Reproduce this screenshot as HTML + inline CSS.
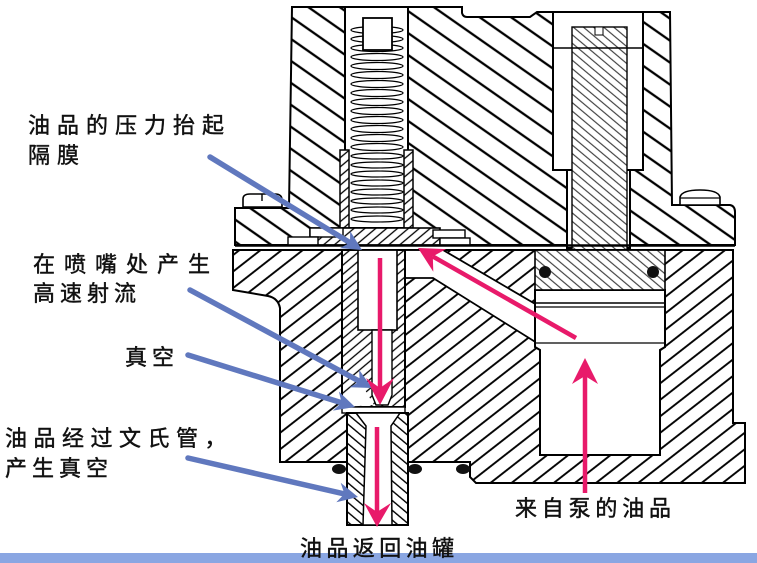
<!DOCTYPE html>
<html><head><meta charset="utf-8"><style>
html,body{margin:0;padding:0;background:#fff;}
svg{display:block;}
text{font-family:"Liberation Sans","Noto Sans CJK SC",sans-serif;font-size:22px;fill:#111;stroke:#111;stroke-width:0.45px;}
</style></head><body>
<svg width="757" height="563" viewBox="0 0 757 563" xmlns="http://www.w3.org/2000/svg">
<defs>
<pattern id="hA" width="18" height="18" patternUnits="userSpaceOnUse" patternTransform="rotate(-55)">
<rect width="18" height="18" fill="#fff"/><line x1="9" y1="0" x2="9" y2="18" stroke="#000" stroke-width="2.3"/></pattern>
<pattern id="hB" width="13" height="13" patternUnits="userSpaceOnUse" patternTransform="rotate(52)">
<rect width="13" height="13" fill="#fff"/><line x1="6.5" y1="0" x2="6.5" y2="13" stroke="#000" stroke-width="1.9"/></pattern>
<pattern id="hC" width="7" height="7" patternUnits="userSpaceOnUse" patternTransform="rotate(50)">
<rect width="7" height="7" fill="#fff"/><line x1="3.5" y1="0" x2="3.5" y2="7" stroke="#000" stroke-width="1.3"/></pattern>
<pattern id="hD" width="7.5" height="7.5" patternUnits="userSpaceOnUse" patternTransform="rotate(-50)">
<rect width="7.5" height="7.5" fill="#fff"/><line x1="3.7" y1="0" x2="3.7" y2="7.5" stroke="#000" stroke-width="1.4"/></pattern>
<pattern id="hE" width="6.5" height="6.5" patternUnits="userSpaceOnUse" patternTransform="rotate(-50)">
<rect width="6.5" height="6.5" fill="#fff"/><line x1="3.2" y1="0" x2="3.2" y2="6.5" stroke="#222" stroke-width="1"/></pattern>
</defs>

<!-- upper body -->
<path d="M292,7 L462,7 L462,13 Q463,17 467,17 L530,17 L537,12 L670,12 L672,205 L730,205 Q735,206 735,212 L735,245 L235,245 L235,208 L289,208 Z" fill="url(#hA)" stroke="#000" stroke-width="2"/>

<!-- spring bore -->
<rect x="345" y="7" width="63" height="221" fill="#fff" stroke="#000" stroke-width="2"/>
<rect x="340" y="150" width="9" height="78" fill="url(#hC)" stroke="#000" stroke-width="1.5"/>
<rect x="404" y="150" width="9" height="78" fill="url(#hC)" stroke="#000" stroke-width="1.5"/>
<g fill="none" stroke="#000" stroke-width="1.2">
<ellipse cx="377" cy="30" rx="26" ry="3.5"/><ellipse cx="377" cy="39" rx="26" ry="3.5"/>
<ellipse cx="377" cy="48" rx="26" ry="3.5"/><ellipse cx="377" cy="57" rx="26" ry="3.5"/>
<ellipse cx="377" cy="66" rx="26" ry="3.5"/><ellipse cx="377" cy="75" rx="26" ry="3.5"/>
<ellipse cx="377" cy="84" rx="26" ry="3.5"/><ellipse cx="377" cy="93" rx="26" ry="3.5"/>
<ellipse cx="377" cy="102" rx="26" ry="3.5"/><ellipse cx="377" cy="111" rx="26" ry="3.5"/>
<ellipse cx="377" cy="120" rx="26" ry="3.5"/><ellipse cx="377" cy="129" rx="26" ry="3.5"/>
<ellipse cx="377" cy="138" rx="26" ry="3.5"/><ellipse cx="377" cy="147" rx="26" ry="3.5"/>
<ellipse cx="377" cy="156" rx="26" ry="3"/><ellipse cx="377" cy="165" rx="26" ry="3"/>
<ellipse cx="377" cy="174" rx="26" ry="3"/><ellipse cx="377" cy="183" rx="26" ry="3"/>
<ellipse cx="377" cy="192" rx="26" ry="3"/><ellipse cx="377" cy="201" rx="26" ry="3"/>
<ellipse cx="377" cy="210" rx="26" ry="3"/><ellipse cx="377" cy="219" rx="26" ry="3"/>
</g>
<rect x="363" y="18" width="29" height="32" fill="#fff" stroke="#000" stroke-width="1.8"/>

<!-- spring base plate -->
<rect x="310" y="228" width="130" height="17" fill="url(#hC)" stroke="#000" stroke-width="1.6"/>
<rect x="310" y="228" width="33" height="9" fill="#fff" stroke="#000" stroke-width="1.4"/>
<rect x="288" y="237" width="30" height="8" fill="#fff" stroke="#000" stroke-width="1.4"/>
<rect x="433" y="230" width="32" height="8" fill="#fff" stroke="#000" stroke-width="1.4"/>
<rect x="440" y="238" width="30" height="7" fill="#fff" stroke="#000" stroke-width="1.4"/>

<!-- stem bore & stem -->
<rect x="553" y="12" width="90" height="158" fill="#fff" stroke="#000" stroke-width="2"/>
<rect x="567" y="170" width="63" height="78" fill="#fff" stroke="#000" stroke-width="2"/>
<rect x="572" y="27" width="55" height="223" fill="url(#hE)" stroke="#000" stroke-width="1.4"/>
<rect x="595" y="27" width="8" height="8" fill="#fff" stroke="#000" stroke-width="1"/>
<line x1="553" y1="48" x2="643" y2="48" stroke="#000" stroke-width="1.5"/>

<!-- lower body -->
<path d="M233,250 L733,250 L733,423 L745,423 L745,483 L476,483 L470,477 L470,462 L280,462 L280,308 Q278,298 268,296 L233,290 Z" fill="url(#hB)" stroke="#000" stroke-width="2"/>
<!-- channel -->
<path d="M405,250 L443,250 L537,305 L537,343 L433,278 L405,278 Z" fill="#fff" stroke="#000" stroke-width="1.8"/>
<!-- piston bore -->
<path d="M535,290 L665,290 L665,347 L660,350 L660,455 L540,455 L540,350 L535,347 Z" fill="#fff" stroke="#000" stroke-width="2"/>
<line x1="535" y1="303" x2="665" y2="303" stroke="#000" stroke-width="1.5"/>
<line x1="535" y1="307" x2="665" y2="307" stroke="#000" stroke-width="1.2"/>
<line x1="535" y1="343" x2="665" y2="343" stroke="#000" stroke-width="1.2"/>
<rect x="535" y="250" width="130" height="40" fill="url(#hE)" stroke="#000" stroke-width="1.6"/>
<ellipse cx="545" cy="272" rx="6" ry="6" fill="#111"/>
<ellipse cx="653" cy="272" rx="6" ry="6" fill="#111"/>

<!-- nozzle insert -->
<rect x="342" y="250" width="63" height="157" fill="url(#hC)" stroke="#000" stroke-width="2"/>
<rect x="358" y="250" width="39" height="80" fill="#fff" stroke="#000" stroke-width="1.6"/>
<path d="M372,330 L392,330 L392,395 L388,405 L376,405 L372,395 Z" fill="#fff" stroke="#000" stroke-width="1.4"/>
<path d="M343,398 L362,385 L374,405 L343,407 Z" fill="#fff" stroke="none"/>
<rect x="342" y="407" width="63" height="6" fill="#fff" stroke="#000" stroke-width="1.4"/>

<!-- lower tube -->
<rect x="347" y="413" width="61" height="112" fill="url(#hD)" stroke="#000" stroke-width="2"/>
<path d="M356,413 L400,413 L391,426 L392,525 L363,525 L366,426 Z" fill="#fff" stroke="#000" stroke-width="1.5"/>

<!-- o-rings -->
<ellipse cx="339" cy="469" rx="7" ry="5" fill="#111"/>
<ellipse cx="415" cy="469" rx="7" ry="5" fill="#111"/>
<ellipse cx="463" cy="469" rx="7" ry="5" fill="#111"/>

<!-- diaphragm -->
<line x1="235" y1="245.5" x2="735" y2="245.5" stroke="#000" stroke-width="2.6"/>
<line x1="233" y1="250" x2="733" y2="250" stroke="#000" stroke-width="1.4"/>

<!-- screw heads -->
<path d="M243,207 L243,199 Q243,194 250,194 L275,194 Q282,194 282,200 L282,207 Z" fill="#fff" stroke="#000" stroke-width="1.6"/>
<line x1="262" y1="194" x2="262" y2="201" stroke="#000" stroke-width="1.4"/>
<path d="M680,205 L680,197 Q682,190 700,190 Q718,190 720,197 L720,205 Z" fill="#fff" stroke="#000" stroke-width="1.6"/>
<line x1="680" y1="198" x2="720" y2="198" stroke="#000" stroke-width="1.3"/>

<!-- blue arrows -->
<g stroke="#6078be" stroke-width="5.5" stroke-linecap="round" fill="none">
<line x1="210" y1="157" x2="350" y2="242.7"/>
<line x1="190" y1="290" x2="359.7" y2="381.4"/>
<line x1="188" y1="355" x2="341.6" y2="402.8"/>
<line x1="188" y1="458" x2="344.4" y2="493.9"/>
</g>
<g fill="#6078be">
<polygon points="362,250 339.8,248.1 350,242.7 350.2,231.1"/>
<polygon points="372,388 349.7,387.3 359.7,381.4 359.1,369.7"/>
<polygon points="355,407 332.9,410.6 341.6,402.8 338.9,391.5"/>
<polygon points="358,497 336.3,502.3 344.4,493.9 340.7,482.8"/>
</g>

<!-- pink arrows -->
<g stroke="#e81a6a" stroke-width="4.5" fill="none">
<line x1="380" y1="258" x2="380" y2="388"/>
<line x1="377" y1="427" x2="377" y2="512"/>
<line x1="576" y1="338" x2="432.8" y2="256.4"/>
<line x1="585" y1="493" x2="585" y2="376"/>
</g>
<g fill="#e81a6a">
<polygon points="380,405 366,378 380,388 394,378"/>
<polygon points="377,527 364,503 377,512 391,503"/>
<polygon points="418,248 446.1,249.1 432.8,256.4 433.3,271.7"/>
<polygon points="585,358 572,384 585,376 598,384"/>
</g>

<!-- bottom bar -->
<rect x="0" y="553" width="757" height="10" fill="#8aa6e2"/>

<!-- labels -->
<text x="28" y="133" letter-spacing="7">油品的压力抬起</text>
<text x="28" y="163" letter-spacing="7">隔膜</text>
<text x="33" y="272" letter-spacing="9">在喷嘴处产生</text>
<text x="33" y="301" letter-spacing="5">高速射流</text>
<text x="125" y="365" letter-spacing="5">真空</text>
<text x="5" y="446" letter-spacing="6.5">油品经过文氏管，</text>
<text x="5" y="476" letter-spacing="5">产生真空</text>
<text x="300" y="556" letter-spacing="4.4">油品返回油罐</text>
<text x="515" y="516" letter-spacing="4.8">来自泵的油品</text>
</svg>
</body></html>
